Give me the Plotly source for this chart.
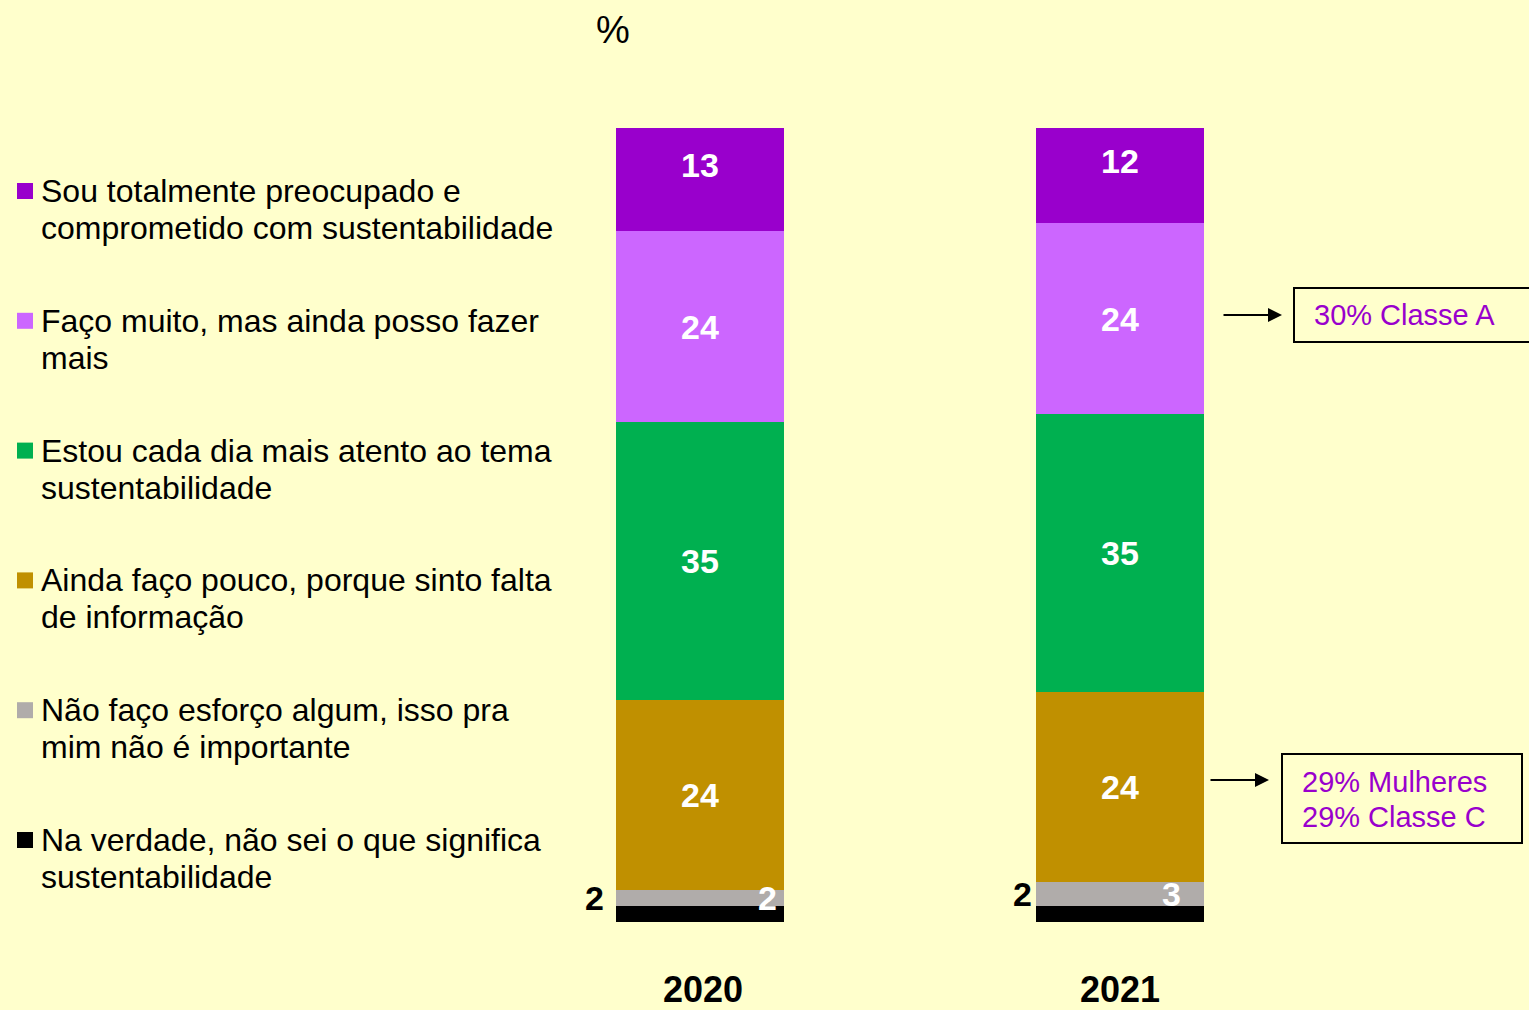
import plotly.graph_objects as go

W, H = 1529, 1010

years = ["2020", "2021"]

# Segments listed bottom-to-top in stacking order
categories = [
    "Na verdade, não sei o que significa<br>sustentabilidade",
    "Não faço esforço algum, isso pra<br>mim não é importante",
    "Ainda faço pouco, porque sinto falta<br>de informação",
    "Estou cada dia mais atento ao tema<br>sustentabilidade",
    "Faço muito, mas ainda posso fazer<br>mais",
    "Sou totalmente preocupado e<br>comprometido com sustentabilidade",
]
values_2020 = [2, 2, 24, 35, 24, 13]
values_2021 = [2, 3, 24, 35, 24, 12]
colors = ["#000000", "#B0ACAA", "#C09000", "#00B050", "#CC66FF", "#9900CC"]

callout_pink = "30% Classe A"
callout_gold = ["29% Mulheres", "29% Classe C"]

FONT = "Liberation Sans, Arial, sans-serif"
BG = "#FFFFCC"
PURPLE_TXT = "#9900CC"


def px(x):
    return x / W


def py(y):
    return 1 - y / H


series = [values_2020, values_2021]

fig = go.Figure()
for i, cat in enumerate(categories):
    fig.add_trace(go.Bar(
        x=years,
        y=[series[0][i], series[1][i]],
        name=cat,
        marker=dict(color=colors[i], line=dict(width=0)),
        showlegend=False,
        hoverinfo="skip",
    ))

annotations = []
shapes = []

# Value labels on the bars (category axis: annotation x is the category index)
black_shift = [-106, -98]
gray_shift = [67, 51]
for j, yr in enumerate(years):
    vals = series[j]
    base = 0
    for i, v in enumerate(vals):
        mid = base + v / 2
        common = dict(x=j, xref="x", yref="y", showarrow=False,
                      xanchor="center", yanchor="middle", text=f"<b>{v}</b>")
        if i == 0:
            annotations.append(dict(
                common, y=vals[0] + vals[1] / 2, xshift=black_shift[j],
                font=dict(family=FONT, size=34, color="#000000"),
            ))
        elif i == 1:
            annotations.append(dict(
                common, y=mid, xshift=gray_shift[j],
                font=dict(family=FONT, size=34, color="#FFFFFF"),
            ))
        else:
            yshift = 15 if i == len(vals) - 1 else 0
            annotations.append(dict(
                common, y=mid, yshift=yshift,
                font=dict(family=FONT, size=34, color="#FFFFFF"),
            ))
        base += v

# Year labels under the bars
year_shift = [3, 0]
for j, yr in enumerate(years):
    annotations.append(dict(
        x=j, y=py(989), xref="x", yref="paper", xshift=year_shift[j],
        xanchor="center", yanchor="middle",
        text=f"<b>{yr}</b>", showarrow=False,
        font=dict(family=FONT, size=36, color="#000000"),
    ))

# Unit marker
annotations.append(dict(
    x=px(613), y=py(30), xref="paper", yref="paper",
    xanchor="center", yanchor="middle",
    text="%", showarrow=False,
    font=dict(family=FONT, size=38, color="#000000"),
))

# Legend, top entry first
legend_top = 191
legend_step = 129.8
line_gap = 37
for k, i in enumerate(reversed(range(len(categories)))):
    y0 = legend_top + k * legend_step
    shapes.append(dict(
        type="rect", xref="paper", yref="paper",
        x0=px(17), x1=px(33), y0=py(y0 - 8), y1=py(y0 + 8),
        fillcolor=colors[i], line=dict(width=0),
    ))
    for n, line in enumerate(categories[i].split("<br>")):
        annotations.append(dict(
            x=px(39), y=py(y0 + n * line_gap), xref="paper", yref="paper",
            xanchor="left", yanchor="middle",
            text=line, showarrow=False,
            font=dict(family=FONT, size=32, color="#000000"),
        ))

# Callout boxes with arrows
shapes.append(dict(
    type="rect", xref="paper", yref="paper",
    x0=px(1294), x1=px(1545), y0=py(342), y1=py(288),
    line=dict(color="#000000", width=2), fillcolor="rgba(0,0,0,0)",
))
annotations.append(dict(
    x=px(1312), y=py(315), xref="paper", yref="paper",
    xanchor="left", yanchor="middle", text=callout_pink, showarrow=False,
    font=dict(family=FONT, size=29, color=PURPLE_TXT),
))
annotations.append(dict(
    x=px(1282), y=py(315), xref="paper", yref="paper",
    ax=-60, ay=0, text="", showarrow=True,
    arrowhead=2, arrowsize=1.4, arrowwidth=2, arrowcolor="#000000", standoff=0,
))

shapes.append(dict(
    type="rect", xref="paper", yref="paper",
    x0=px(1282), x1=px(1522), y0=py(843), y1=py(754),
    line=dict(color="#000000", width=2), fillcolor="rgba(0,0,0,0)",
))
for n, line in enumerate(callout_gold):
    annotations.append(dict(
        x=px(1300), y=py(782 + n * 35), xref="paper", yref="paper",
        xanchor="left", yanchor="middle", text=line, showarrow=False,
        font=dict(family=FONT, size=29, color=PURPLE_TXT),
    ))
annotations.append(dict(
    x=px(1269), y=py(780), xref="paper", yref="paper",
    ax=-60, ay=0, text="", showarrow=True,
    arrowhead=2, arrowsize=1.4, arrowwidth=2, arrowcolor="#000000", standoff=0,
))

fig.update_layout(
    width=W, height=H,
    margin=dict(l=0, r=0, t=0, b=0),
    paper_bgcolor=BG, plot_bgcolor=BG,
    barmode="stack", bargap=0.6,
    font=dict(family=FONT),
    xaxis=dict(domain=[px(490), px(1330)], range=[-0.5, 1.5], type="category",
               visible=False, fixedrange=True),
    yaxis=dict(domain=[py(922), py(128)], range=[0, 100], visible=False, fixedrange=True),
    annotations=annotations,
    shapes=shapes,
)

fig.write_html("out.html")
